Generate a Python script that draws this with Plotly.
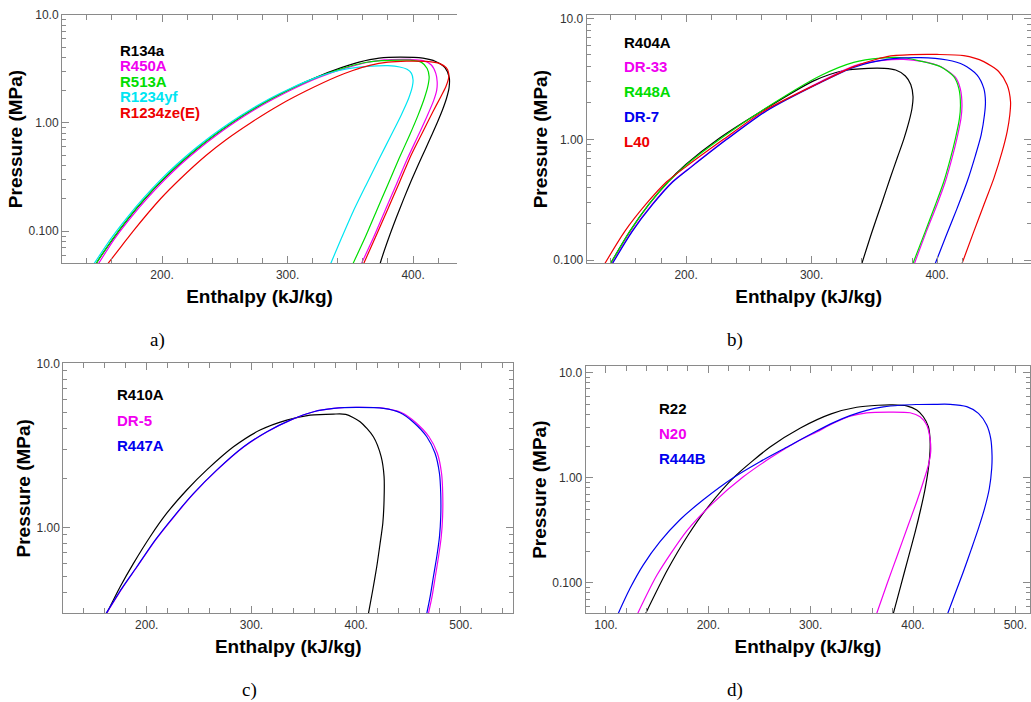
import plotly.graph_objects as go

# ---------------- data (enthalpy kJ/kg, pressure MPa), liquid side -> critical -> vapour side ----------------
# panel a
R134A_H = [146.9, 148.1, 160.8, 173.6, 186.7, 200.0, 213.6, 227.5, 241.7, 256.4, 271.6, 287.5, 304.3, 322.4, 342.9, 357.0, 373.0, 389.6,
           407.8, 418.0, 425.4, 428.8, 428.7, 426.6, 423.4, 419.4, 414.8, 409.8, 404.3, 398.6, 392.7, 386.6, 380.3, 374.0, 373.4]
R134A_P = [0.048, 0.0512, 0.0844, 0.1327, 0.2006, 0.2928, 0.4146, 0.5717, 0.7702, 1.0166, 1.3179, 1.6818, 2.1168, 2.6332, 3.2445, 3.65, 3.97, 4.06,
           3.97, 3.70, 3.2445, 2.6332, 2.1168, 1.6818, 1.3179, 1.0166, 0.7702, 0.5717, 0.4146, 0.2928, 0.2006, 0.1327, 0.0844, 0.0512, 0.048]
R450A_H = [149.5, 162.0, 175.0, 188.2, 201.5, 215.0, 229.0, 243.3, 258.0, 273.3, 289.5, 306.5, 325.0, 346.0, 362.0, 377.0, 392.0,
           398.0, 408.0, 414.6, 418.1, 419.2, 418.8, 416.3, 411.5, 404.3, 395.6, 386.5, 377.3, 368.2, 358.9]
R450A_P = [0.0502, 0.0844, 0.1327, 0.2006, 0.2928, 0.4146, 0.5717, 0.7702, 1.0166, 1.3179, 1.6818, 2.1168, 2.6332, 3.2, 3.6, 3.82, 3.87,
           3.86, 3.76, 3.43, 2.87, 2.4, 2.0, 1.6, 1.18, 0.773, 0.471, 0.267, 0.151, 0.0857, 0.0502]
R513A_H = [147.5, 160.5, 173.3, 186.3, 199.6, 213.2, 227.2, 241.5, 256.2, 271.5, 287.6, 304.6, 323.2, 344.0, 360.0, 375.0, 390.0,
           397.4, 406.7, 411.2, 412.8, 411.7, 409.0, 404.0, 397.3, 388.9, 379.8, 370.6, 361.5, 352.2]
R513A_P = [0.0502, 0.0844, 0.1327, 0.2006, 0.2928, 0.4146, 0.5717, 0.7702, 1.0166, 1.3179, 1.6818, 2.1168, 2.6332, 3.2, 3.58, 3.76, 3.81,
           3.80, 3.63, 3.19, 2.68, 2.16, 1.69, 1.18, 0.773, 0.471, 0.267, 0.151, 0.0857, 0.0502]
R1234YF_H = [146.0, 159.0, 172.0, 185.0, 198.2, 211.8, 225.7, 240.0, 254.7, 270.0, 286.0, 303.5, 323.0, 341.0, 357.0, 372.0, 380.0,
             389.4, 395.2, 398.7, 400.0, 399.4, 396.5, 390.5, 382.6, 373.2, 362.6, 352.2, 342.9, 334.4]
R1234YF_P = [0.0502, 0.0844, 0.1327, 0.2006, 0.2928, 0.4146, 0.5717, 0.7702, 1.0166, 1.3179, 1.6818, 2.1168, 2.6332, 3.05, 3.28, 3.37, 3.38,
             3.29, 3.13, 2.87, 2.49, 2.16, 1.69, 1.18, 0.773, 0.471, 0.267, 0.151, 0.0857, 0.0502]
R1234ZE_H = [157.0, 168.0, 177.0, 199.0, 214.0, 235.0, 251.0, 270.5, 293.0, 315.0, 339.0, 352.0, 365.5, 380.0, 394.7,
             410.7, 421.3, 426.6, 428.4, 428.2, 426.1, 421.8, 415.8, 407.8, 398.5, 389.4, 380.1, 370.8, 360.7]
R1234ZE_P = [0.0502, 0.0733, 0.1, 0.2, 0.3, 0.5, 0.7, 1.0, 1.45, 1.98, 2.67, 3.05, 3.40, 3.64, 3.72,
             3.70, 3.53, 3.22, 2.86, 2.55, 2.16, 1.72, 1.27, 0.83, 0.505, 0.286, 0.162, 0.092, 0.0502]

# panel b
R404A_H = [139.9, 155.0, 170.0, 185.0, 200.0, 227.0, 260.0, 301.6, 325.0, 345.0,
           358.0, 367.0, 374.7, 379.0, 380.8, 380.0, 377.4, 373.4, 368.6, 362.7, 356.1, 348.0, 340.1]
R404A_P = [0.094, 0.172, 0.286, 0.438, 0.621, 1.03, 1.71, 3.05, 3.70, 3.87,
           3.87, 3.75, 3.35, 2.85, 2.26, 1.81, 1.38, 1.0, 0.72, 0.48, 0.30, 0.17, 0.094]
DR33_H = [141.0, 156.5, 173.0, 189.0, 204.5, 232.0, 263.5, 306.9, 333.5, 355.0, 373.4,
          388.0, 403.5, 414.5, 418.5, 419.8, 419.0, 415.8, 411.8, 406.5, 399.8, 391.4, 382.0]
DR33_P = [0.094, 0.172, 0.29, 0.445, 0.60, 1.0, 1.72, 3.0, 4.05, 4.48, 4.60,
          4.42, 3.98, 3.28, 2.62, 1.92, 1.49, 1.02, 0.695, 0.445, 0.286, 0.172, 0.094]
R448A_H = [140.0, 155.0, 170.5, 186.0, 201.5, 229.0, 261.5, 306.9, 333.5, 355.0, 373.0,
           386.7, 402.6, 413.3, 417.3, 418.6, 417.8, 414.6, 410.6, 405.3, 398.6, 390.5, 380.8]
R448A_P = [0.094, 0.172, 0.29, 0.445, 0.63, 1.04, 1.76, 3.36, 4.34, 4.70, 4.74,
           4.45, 4.0, 3.3, 2.64, 1.92, 1.49, 1.02, 0.695, 0.445, 0.286, 0.172, 0.094]
DR7_H = [141.5, 157.0, 173.5, 189.5, 205.0, 232.5, 264.0, 306.9, 333.5, 360.0, 386.7,
         408.0, 421.2, 431.9, 437.2, 438.5, 437.7, 435.1, 430.6, 423.9, 415.9, 407.4, 398.6]
DR7_P = [0.094, 0.172, 0.29, 0.445, 0.60, 1.0, 1.72, 2.95, 3.95, 4.60, 4.75,
         4.54, 4.13, 3.41, 2.64, 2.05, 1.59, 1.09, 0.741, 0.445, 0.268, 0.161, 0.094]
L40_H = [135.4, 151.0, 168.0, 184.5, 200.5, 229.8, 262.0, 306.9, 333.5, 360.1, 380.0, 400.0,
         421.2, 437.2, 449.2, 455.8, 458.5, 457.9, 455.8, 451.8, 445.2, 437.2, 429.2, 419.9]
L40_P = [0.094, 0.172, 0.29, 0.445, 0.60, 1.0, 1.72, 2.96, 4.0, 4.85, 5.03, 5.05,
         4.93, 4.40, 3.63, 2.82, 2.05, 1.59, 1.16, 0.79, 0.475, 0.286, 0.172, 0.094]

# panel c
R410A_H = [161.8, 174.6, 187.3, 203.2, 219.1, 238.2, 257.3, 282.8, 308.2, 333.7, 356.0, 378.2,
           390.0, 403.7, 416.4, 423.8, 426.6, 426.6, 425.4, 422.8, 419.6, 415.8, 411.7]
R410A_P = [0.299, 0.434, 0.603, 0.877, 1.22, 1.69, 2.24, 3.10, 3.92, 4.51, 4.84, 4.91,
           4.89, 4.41, 3.57, 2.70, 2.04, 1.47, 1.06, 0.798, 0.575, 0.415, 0.299]
DR5_H = [161.5, 176.5, 190.8, 208.3, 226.0, 245.0, 267.3, 292.8, 315.0, 337.3, 359.5, 378.5, 400.0,
         427.0, 443.5, 456.5, 469.5, 477.5, 481.5, 482.6, 482.5, 481.2, 478.6, 475.5, 472.4, 469.0]
DR5_P = [0.299, 0.425, 0.575, 0.836, 1.16, 1.61, 2.24, 3.10, 3.83, 4.51, 5.07, 5.31, 5.40,
         5.32, 5.0, 4.38, 3.57, 2.83, 2.13, 1.61, 1.16, 0.877, 0.662, 0.50, 0.378, 0.299]
R447A_H = [161.2, 176.2, 190.5, 208.0, 225.6, 244.7, 267.0, 292.5, 314.8, 337.1, 359.4, 378.5, 400.0,
           426.0, 441.9, 454.6, 467.4, 475.3, 479.5, 480.7, 480.7, 479.5, 476.9, 473.7, 470.6, 467.4]
R447A_P = [0.299, 0.425, 0.575, 0.836, 1.16, 1.61, 2.24, 3.10, 3.83, 4.51, 5.07, 5.31, 5.39,
           5.31, 5.0, 4.38, 3.57, 2.83, 2.13, 1.61, 1.16, 0.877, 0.662, 0.50, 0.378, 0.299]

# panel d
R22_H = [138.8, 160.0, 180.0, 200.0, 226.0, 260.0, 290.0, 320.0, 345.0, 366.0,
         380.0, 393.8, 403.6, 410.1, 415.0, 416.6, 416.6, 415.0, 411.7, 407.5, 402.0, 395.0, 388.0, 380.8]
R22_P = [0.051, 0.132, 0.282, 0.532, 1.03, 1.95, 2.98, 4.06, 4.69, 4.90,
         4.94, 4.84, 4.41, 3.81, 3.06, 2.37, 1.78, 1.22, 0.776, 0.501, 0.302, 0.168, 0.0933, 0.051]
N20_H = [131.0, 150.0, 179.0, 205.0, 234.2, 260.0, 286.3, 305.9, 322.2, 338.5, 354.7, 376.0,
         397.1, 406.9, 413.4, 416.6, 417.3, 415.0, 410.1, 403.6, 395.0, 385.0, 375.0, 364.5]
N20_P = [0.051, 0.119, 0.312, 0.58, 1.02, 1.53, 2.19, 2.73, 3.30, 3.85, 4.15, 4.22,
         4.16, 3.81, 3.18, 2.37, 1.77, 1.32, 0.916, 0.591, 0.347, 0.186, 0.100, 0.051]
R444B_H = [112.0, 123.4, 136.5, 152.8, 172.3, 195.1, 224.4, 250.5, 276.5, 302.6, 322.2, 338.5, 354.7, 371.0, 387.3, 403.0, 420.0, 436.2,
           452.5, 463.9, 472.0, 475.9, 477.2, 476.9, 474.6, 470.0, 464.0, 457.0, 449.0, 441.0, 433.9]
R444B_P = [0.051, 0.088, 0.148, 0.246, 0.398, 0.617, 1.0, 1.42, 1.95, 2.68, 3.35, 3.90, 4.38, 4.72, 4.90, 4.98, 5.0, 5.0,
           4.75, 4.10, 3.18, 2.37, 1.64, 1.23, 0.794, 0.513, 0.331, 0.209, 0.126, 0.078, 0.051]

BLACK, MAGENTA, GREEN, CYAN, RED, BLUE = "#000000", "#f000f0", "#00dd00", "#00e5f2", "#ee0000", "#0000ee"

PANEL_SERIES = [
    [("R134a", R134A_H, R134A_P, BLACK), ("R450A", R450A_H, R450A_P, MAGENTA), ("R513A", R513A_H, R513A_P, GREEN),
     ("R1234yf", R1234YF_H, R1234YF_P, CYAN), ("R1234ze(E)", R1234ZE_H, R1234ZE_P, RED)],
    [("R404A", R404A_H, R404A_P, BLACK), ("DR-33", DR33_H, DR33_P, MAGENTA), ("R448A", R448A_H, R448A_P, GREEN),
     ("DR-7", DR7_H, DR7_P, BLUE), ("L40", L40_H, L40_P, RED)],
    [("R410A", R410A_H, R410A_P, BLACK), ("DR-5", DR5_H, DR5_P, MAGENTA), ("R447A", R447A_H, R447A_P, BLUE)],
    [("R22", R22_H, R22_P, BLACK), ("N20", N20_H, N20_P, MAGENTA), ("R444B", R444B_H, R444B_P, BLUE)],
]
X_TICKS = [[200, 300, 400], [200, 300, 400], [200, 300, 400, 500], [100, 200, 300, 400, 500]]
Y_TICKS = [0.1, 1.0, 10.0]
Y_TICKTEXT = ["0.100", "1.00", "10.0"]
CAPTIONS = ["a)", "b)", "c)", "d)"]

# ---------------- layout geometry (window pixels) ----------------
W, H = 1031, 702
GEOM = [
    dict(x=(62, 457), y=(14.7, 263.3), xr=[120.3, 435.0], yr=[-1.298, 1.0005], right=False,
         leg=(118, 50, 15.5), cap=(157, 340)),
    dict(x=(586.7, 1030.5), y=(15, 263.3), xr=[120.8, 474.4], yr=[-1.027, 1.030], right=True,
         leg=(622, 42, 24.8), cap=(735, 340)),
    dict(x=(63.3, 513.3), y=(363.3, 613.3), xr=[120.3, 550.0], yr=[-0.524, 1.0005], right=True,
         leg=(115, 394.5, 25.5), cap=(249, 690)),
    dict(x=(585.7, 1030), y=(366, 613.3), xr=[80.2, 514.3], yr=[-1.291, 1.064], right=True,
         leg=(657, 408.5, 25.2), cap=(735, 690)),
]


def px(x):
    return x / W


def py(y):
    return 1 - y / H


AXIS_GREY = "#8a8a8a"
TICK_FONT = dict(family="Liberation Sans, Arial", size=12, color="#333333")
TITLE_FONT = dict(family="Liberation Sans, Arial", size=19, color="#000000", weight="bold")
minor_y = [k * 10.0 ** d for d in (-2, -1, 0, 1) for k in range(2, 10)]

fig = go.Figure()
annotations = []
for i, (series, g) in enumerate(zip(PANEL_SERIES, GEOM)):
    n = "" if i == 0 else str(i + 1)
    for name, hh, pp, col in series:
        fig.add_trace(go.Scatter(x=hh, y=pp, mode="lines", name=name, showlegend=False,
                                 line=dict(color=col, width=1.2, shape="spline", smoothing=0.7),
                                 xaxis="x" + n, yaxis="y" + n))
    xt = X_TICKS[i]
    fig.update_layout(**{
        "xaxis" + n: dict(
            domain=[max(0.0, px(g["x"][0])), min(1.0, px(g["x"][1]))], range=g["xr"], anchor="y" + n,
            showline=True, linecolor=AXIS_GREY, linewidth=1, mirror="ticks",
            ticks="inside", ticklen=7, tickcolor=AXIS_GREY, tickwidth=1,
            tickvals=xt, ticktext=[f"{v}." for v in xt], tickfont=TICK_FONT, ticklabeloverflow="allow",
            minor=dict(dtick=20, tick0=0, ticks="inside", ticklen=5, tickcolor=AXIS_GREY, showgrid=False),
            showgrid=False, zeroline=False, automargin=False,
            title=dict(text="Enthalpy (kJ/kg)", font=TITLE_FONT, standoff=8),
        ),
        "yaxis" + n: dict(
            domain=[py(g["y"][1]), py(g["y"][0])], range=g["yr"], type="log", anchor="x" + n,
            showline=True, linecolor=AXIS_GREY, linewidth=1, mirror="ticks" if g["right"] else False,
            ticks="inside", ticklen=7, tickcolor=AXIS_GREY, tickwidth=1,
            tickvals=Y_TICKS, ticktext=Y_TICKTEXT, tickfont=TICK_FONT, ticklabeloverflow="allow",
            minor=dict(tickvals=minor_y, ticks="inside", ticklen=4, tickcolor=AXIS_GREY, showgrid=False),
            showgrid=False, zeroline=False, automargin=False,
            title=dict(text="Pressure (MPa)", font=TITLE_FONT, standoff=0),
        ),
    })
    lx, ly0, dy = g["leg"]
    for k, (name, _, _, col) in enumerate(series):
        annotations.append(dict(text=name, x=px(lx), y=py(ly0 + k * dy), xref="paper", yref="paper",
                                xanchor="left", yanchor="middle", showarrow=False,
                                font=dict(family="Liberation Sans, Arial", size=15, color=col, weight="bold")))
    cx, cy = g["cap"]
    annotations.append(dict(text=CAPTIONS[i], x=px(cx), y=py(cy), xref="paper", yref="paper",
                            xanchor="center", yanchor="middle", showarrow=False,
                            font=dict(family="Liberation Serif, Times New Roman", size=19, color="#000000")))

fig.update_layout(width=W, height=H, margin=dict(l=0, r=0, t=0, b=0),
                  paper_bgcolor="white", plot_bgcolor="white", annotations=annotations)
fig.write_html("out.html", config={"displayModeBar": False},
               post_script="document.body.style.margin='0';document.body.style.overflow='hidden';")
